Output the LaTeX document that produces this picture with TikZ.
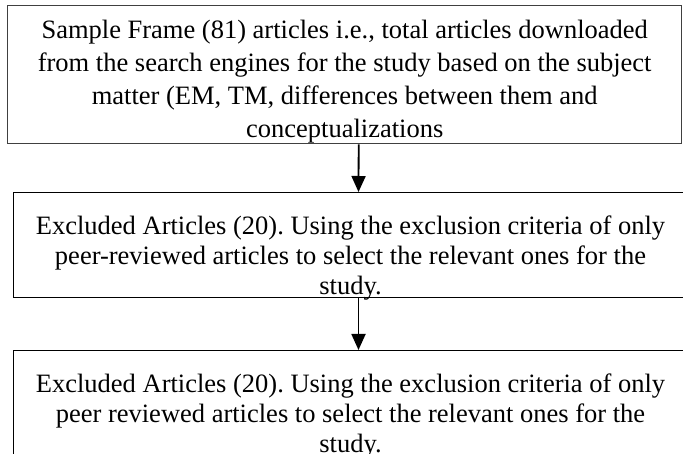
\documentclass[tikz,border=0pt]{standalone}
\usepackage{fontspec}
\setmainfont{Liberation Serif}
\usetikzlibrary{arrows.meta}
\frenchspacing

\begin{document}
\begin{tikzpicture}[x = 1pt, y = -1pt, > = {Triangle[width=14pt,length=16pt]}, box/.style = {draw, anchor=north west, text width=674pt, inner xsep=0pt, inner ysep=0pt, align=flush center, font=\fontsize{26.5}{30}\selectfont}, flow/.style = {line width=1.8pt, ->}]

    \useasboundingbox (0,0) rectangle (683,454);
    \clip (0,0) rectangle (683,454);

    % boxes
    \node[box, draw=black!75, line width=1.4pt, font=\fontsize{26.5}{33}\selectfont, text height=33pt, text depth=105pt] (frame) at (7,5) {Sample Frame (81) articles i.e., total articles downloaded\\ from the search engines for the study based on the subject\\ matter (EM, TM, differences between them and\\ conceptualizations};
    \node[box, line width=1pt, text height=42pt, text depth=63pt] (peer) at (13,192) {Excluded Articles (20). Using the exclusion criteria of only\\ peer-reviewed articles to select the relevant ones for the\\ study.};
    \node[box, line width=1pt, text height=42pt, text depth=63pt] (final) at (13,350) {Excluded Articles (20). Using the exclusion criteria of only\\ peer reviewed articles to select the relevant ones for the\\ study.};

    % arrows
    \draw[flow] ([xshift=14pt]frame.south) -- ([xshift=8pt]peer.north);
    \draw[flow] ([xshift=8pt]peer.south) -- ([xshift=8pt]final.north);

\end{tikzpicture}
\end{document}
